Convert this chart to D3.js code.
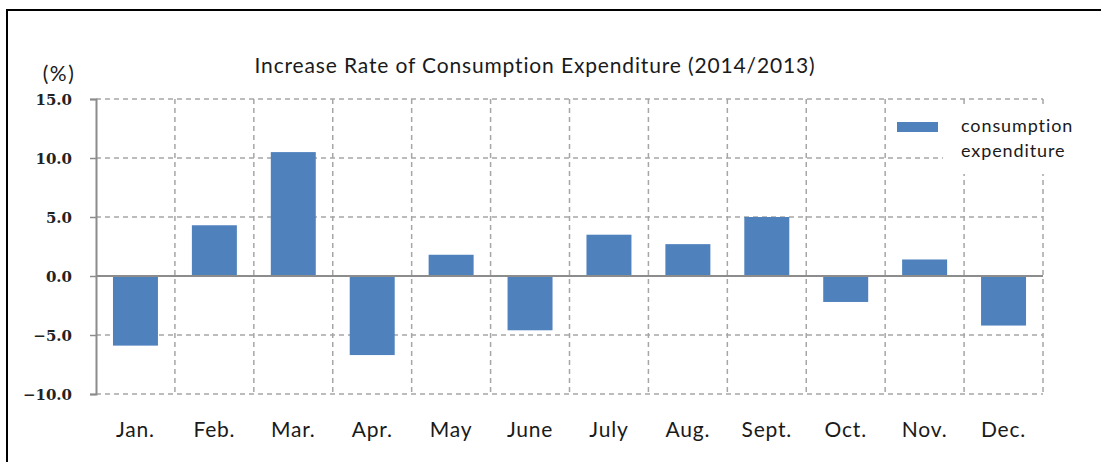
<!DOCTYPE html>
<html><head><meta charset="utf-8">
<script src="https://cdn.jsdelivr.net/npm/d3@7"></script>
<style>body{margin:0;background:#fff}svg{display:block}</style>
</head><body>
<svg id="c" width="1101" height="462"></svg>
<script>
const months = ["Jan.","Feb.","Mar.","Apr.","May","June","July","Aug.","Sept.","Oct.","Nov.","Dec."];
const values = [-5.9, 4.3, 10.5, -6.7, 1.8, -4.6, 3.5, 2.7, 5.0, -2.2, 1.4, -4.2];
const yTicks = [-10, -5, 0, 5, 10, 15];
const title = "Increase Rate of Consumption Expenditure (2014/2013)";
const unitLabel = "(%)";
const legendLines = ["consumption", "expenditure"];

const svg = d3.select("#c");
const m = {left: 96, right: 1043, top: 99, bottom: 394};

// frame
svg.append("rect").attr("x", 7).attr("y", 10).attr("width", 1110).attr("height", 480)
  .attr("fill", "none").attr("stroke", "#000").attr("stroke-width", 2);

const x = d3.scaleBand().domain(months).range([m.left, m.right]).paddingInner(0.43).paddingOuter(0.215);
const y = d3.scaleLinear().domain([-10, 15]).range([m.bottom, m.top]);
const xb = d3.scaleBand().domain(months).range([m.left, m.right]);

const gridColor = "#a6a6a6";
svg.append("g").selectAll("line").data(yTicks.filter(d => d !== 0)).join("line")
  .attr("x1", m.left).attr("x2", m.right).attr("y1", d => y(d)).attr("y2", d => y(d))
  .attr("stroke", gridColor).attr("stroke-width", 1.5).attr("stroke-dasharray", "5,4");
svg.append("g").selectAll("line").data(months.slice(1).concat(["_end"])).join("line")
  .attr("x1", d => d === "_end" ? m.right : xb(d)).attr("x2", d => d === "_end" ? m.right : xb(d))
  .attr("y1", m.top).attr("y2", m.bottom)
  .attr("stroke", gridColor).attr("stroke-width", 1.5).attr("stroke-dasharray", "5,4");

// legend background
svg.append("rect").attr("x", 943).attr("y", 104).attr("width", 105).attr("height", 70).attr("fill", "#fff");

// bars
svg.append("g").selectAll("rect").data(values).join("rect")
  .attr("x", (d, i) => x(months[i])).attr("width", x.bandwidth())
  .attr("y", d => y(Math.max(0, d))).attr("height", d => Math.abs(y(d) - y(0)))
  .attr("fill", "#4f81bd");

// zero line
svg.append("line").attr("x1", m.left).attr("x2", m.right).attr("y1", y(0)).attr("y2", y(0))
  .attr("stroke", "#8c8c8c").attr("stroke-width", 2);

// y axis
const yAxis = svg.append("g").attr("transform", `translate(${m.left},0)`)
  .call(d3.axisLeft(y).tickValues(yTicks).tickSize(6).tickFormat(d => d3.format(".1f")(d).replace("-", "\u2212")));
yAxis.select(".domain").attr("stroke", "#8c8c8c").attr("stroke-width", 2);
yAxis.selectAll(".tick line").attr("stroke", "#8c8c8c").attr("stroke-width", 1.5);
yAxis.selectAll(".tick text").attr("x", -24).attr("dy", "0.36em")
  .attr("font-family", "DejaVu Serif").attr("font-size", 15).attr("font-weight", 600).attr("fill", "#222");

// x labels
svg.append("g").selectAll("text").data(months).join("text")
  .attr("x", d => xb(d) + xb.bandwidth() / 2).attr("y", 437)
  .attr("text-anchor", "middle").attr("font-family", "Lato").attr("font-size", 21)
  .attr("letter-spacing", 0.8).attr("fill", "#1a1a1a")
  .text(d => d);

// title
svg.append("text").attr("x", 535).attr("y", 73).attr("text-anchor", "middle")
  .attr("font-family", "Lato").attr("font-size", 21).attr("letter-spacing", 0.85)
  .attr("fill", "#1a1a1a").text(title);
svg.append("text").attr("x", 59).attr("y", 81).attr("text-anchor", "middle")
  .attr("font-family", "Lato").attr("font-size", 21).attr("letter-spacing", 1.5)
  .attr("fill", "#1a1a1a").text(unitLabel);

// legend
svg.append("rect").attr("x", 897).attr("y", 122).attr("width", 41).attr("height", 10).attr("fill", "#4f81bd");
svg.append("g").selectAll("text").data(legendLines).join("text")
  .attr("x", 961).attr("y", (d, i) => 132 + i * 25)
  .attr("font-family", "Lato").attr("font-size", 18).attr("letter-spacing", 0.9)
  .attr("fill", "#1a1a1a").text(d => d);
</script>
</body></html>
